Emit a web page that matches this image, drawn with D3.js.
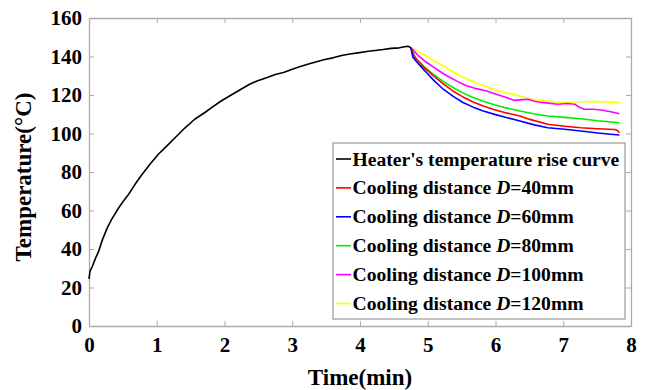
<!DOCTYPE html>
<html>
<head>
<meta charset="utf-8">
<script src="https://cdn.jsdelivr.net/npm/d3@7"></script>
<style>
  body { margin: 0; background: #fff; }
</style>
</head>
<body>
<div id="chart"></div>
<script>
// heater rise curve [time(min), temperature]
const heaterRise = [
  [0, 24.5], [0.015, 28.5], [0.05, 31], [0.1, 35.5], [0.14, 38.6], [0.2, 45], [0.27, 51], [0.33, 55.1],
  [0.4, 59.2], [0.46, 62.5], [0.52, 65.5], [0.58, 68.2], [0.68, 73.6], [0.78, 78.6], [0.9, 84],
  [1.02, 89.1], [1.15, 93.6], [1.27, 97.8], [1.41, 102.7], [1.56, 107.4], [1.71, 110.9],
  [1.83, 114], [1.95, 116.9], [2.08, 119.6], [2.2, 122.1], [2.37, 125.6], [2.49, 127.4], [2.62, 129],
  [2.75, 130.6], [2.87, 131.7], [3.0, 133.4], [3.12, 134.8], [3.24, 136.1], [3.36, 137.3], [3.48, 138.4],
  [3.6, 139.3], [3.73, 140.5], [3.85, 141.3], [3.97, 141.9], [4.1, 142.6], [4.22, 143.1], [4.34, 143.6],
  [4.46, 144.2], [4.58, 144.5], [4.66, 145.1], [4.71, 145.3], [4.75, 144.6]
];

const legendLabels = [
  "Heater's temperature rise curve",
  "Cooling distance D=40mm",
  "Cooling distance D=60mm",
  "Cooling distance D=80mm",
  "Cooling distance D=100mm",
  "Cooling distance D=120mm"
];
const seriesColors = ["#000000", "#ff0000", "#0000ff", "#00ee00", "#ff00ff", "#ffff00"];

// cooling curves [time(min), temperature]
const cool40 = [
  [4.75, 144.6], [4.8, 140], [4.94, 134.5], [5.08, 130], [5.22, 126], [5.37, 122.1], [5.52, 119],
  [5.67, 116.4], [5.82, 114.3], [5.96, 112.6], [6.16, 110.7], [6.36, 109.1], [6.52, 107.2],
  [6.77, 104.8], [7.02, 103.8], [7.26, 103], [7.51, 102.5], [7.76, 102.1], [7.8, 101.6], [7.83, 100.4]
];
const cool60 = [
  [4.75, 144.6], [4.78, 139.6], [4.88, 135.5], [4.98, 131.7], [5.1, 127.2], [5.23, 123], [5.37, 119.4],
  [5.52, 116.1], [5.67, 113.7], [5.82, 111.7], [6.0, 109.8], [6.16, 108.3], [6.36, 106.5],
  [6.56, 104.6], [6.77, 103], [7.02, 102.2], [7.26, 101.3], [7.51, 100.3], [7.7, 99.6], [7.83, 99.2]
];
const cool80 = [
  [4.75, 144.6], [4.83, 138.7], [4.95, 134.6], [5.08, 130.9], [5.22, 127.2], [5.37, 123.9],
  [5.52, 121.1], [5.67, 118.7], [5.82, 116.8], [5.96, 115.2], [6.16, 113.3], [6.36, 111.7],
  [6.56, 110.3], [6.77, 109.1], [7.02, 108.4], [7.26, 107.7], [7.51, 106.6], [7.7, 106], [7.83, 105.6]
];
const cool100 = [
  [4.75, 144.6], [4.86, 140.5], [4.98, 137], [5.13, 133.4], [5.28, 130], [5.43, 127.2], [5.57, 124.8],
  [5.72, 123.3], [5.87, 122.1], [6.02, 120.3], [6.16, 118.7], [6.28, 117.2], [6.4, 117.6],
  [6.48, 117.8], [6.56, 116.9], [6.63, 116.4], [6.78, 115.8], [6.92, 115.2], [7.05, 115.6],
  [7.17, 115.2], [7.24, 113.6], [7.31, 112.6], [7.44, 112.6], [7.56, 112.2], [7.7, 111.3], [7.83, 110.3]
];
const cool120 = [
  [4.75, 144.6], [4.88, 142.2], [5.03, 139], [5.18, 136.1], [5.33, 133], [5.47, 130], [5.62, 127.6],
  [5.77, 125.6], [5.92, 123.7], [6.06, 122.1], [6.21, 120.7], [6.36, 119.5], [6.47, 118.4],
  [6.58, 117.4], [6.8, 116.7], [7.02, 116.1], [7.26, 116.5], [7.51, 116.6], [7.68, 116.3], [7.83, 116.1]
];
const allSeries = [heaterRise, cool40, cool60, cool80, cool100, cool120];

const xTicks = [0, 1, 2, 3, 4, 5, 6, 7, 8];
const yTicks = [0, 20, 40, 60, 80, 100, 120, 140, 160];

const fontFam = "'Liberation Serif', 'Times New Roman', 'DejaVu Serif', serif";

const W = 646, H = 390;
const margin = { top: 18, right: 15, bottom: 64, left: 89 };
const width = W - margin.left - margin.right;
const height = H - margin.top - margin.bottom;

const svg = d3.select("#chart").append("svg")
  .attr("width", W).attr("height", H)
  .style("font-family", fontFam);
const g = svg.append("g").attr("transform", `translate(${margin.left},${margin.top})`);

const x = d3.scaleLinear().domain([0, 8]).range([0, width]);
const y = d3.scaleLinear().domain([0, 160]).range([height, 0]);

const axisColor = "#aaaaaa";

// axes with inward ticks on all four sides
function styleAxis(sel) {
  sel.attr("font-family", null).attr("font-size", null);
  sel.select(".domain").attr("stroke", axisColor).attr("stroke-width", 1.3);
  sel.selectAll(".tick line").attr("stroke", axisColor);
  sel.selectAll("text").attr("fill", "#000")
    .style("font-family", fontFam).style("font-weight", "bold").style("font-size", "21px");
}
g.append("g").attr("transform", `translate(0,${height})`)
  .call(d3.axisBottom(x).tickValues(xTicks).tickSize(-5).tickPadding(11).tickSizeOuter(0))
  .call(styleAxis);
g.append("g")
  .call(d3.axisLeft(y).tickValues(yTicks).tickSize(-5).tickPadding(7).tickSizeOuter(0))
  .call(styleAxis);
g.append("g")
  .call(d3.axisTop(x).tickValues(xTicks).tickSize(-5).tickFormat("").tickSizeOuter(0))
  .call(styleAxis);
g.append("g").attr("transform", `translate(${width},0)`)
  .call(d3.axisRight(y).tickValues(yTicks).tickSize(-5).tickFormat("").tickSizeOuter(0))
  .call(styleAxis);

const line = d3.line().x(d => x(d[0])).y(d => y(d[1]));

// draw cooling curves first in reverse so red/blue stay on top like the original
const order = [5, 4, 3, 1, 2, 0];
order.forEach(i => {
  g.append("path")
    .datum(allSeries[i])
    .attr("fill", "none")
    .attr("stroke", seriesColors[i])
    .attr("stroke-width", 1.6)
    .attr("stroke-linejoin", "round")
    .attr("d", line);
});

// axis titles
svg.append("text")
  .attr("x", margin.left + width / 2).attr("y", 385)
  .attr("text-anchor", "middle")
  .style("font-weight", "bold")
  .style("font-size", "23px")
  .text("Time(min)");
svg.append("text")
  .attr("transform", "translate(31,177) rotate(-90)")
  .attr("text-anchor", "middle")
  .style("font-weight", "bold")
  .style("font-size", "23px")
  .text("Temperature(°C)");

// legend
const legend = svg.append("g").attr("transform", "translate(333,143)");
legend.append("rect")
  .attr("width", 292).attr("height", 176)
  .attr("fill", "#fff").attr("stroke", "#999").attr("stroke-width", 1.2);
const rows = legend.selectAll(".row").data(legendLabels).enter().append("g")
  .attr("class", "row")
  .attr("transform", (d, i) => `translate(0,${16 + i * 28.9})`);
rows.append("line")
  .attr("x1", 3).attr("x2", 18).attr("y1", 0).attr("y2", 0)
  .attr("stroke", (d, i) => seriesColors[i]).attr("stroke-width", 1.6);
const labels = rows.append("text")
  .attr("x", 19.5).attr("y", 6.5)
  .style("font-weight", "bold")
  .style("font-size", "19.6px");
labels.each(function (d) {
  const t = d3.select(this);
  const m = d.match(/^(.*)D(=.*)$/);
  if (m) {
    t.append("tspan").text(m[1]);
    t.append("tspan").style("font-style", "italic").text("D");
    t.append("tspan").text(m[2]);
  } else {
    t.text(d);
  }
});
</script>
</body>
</html>
